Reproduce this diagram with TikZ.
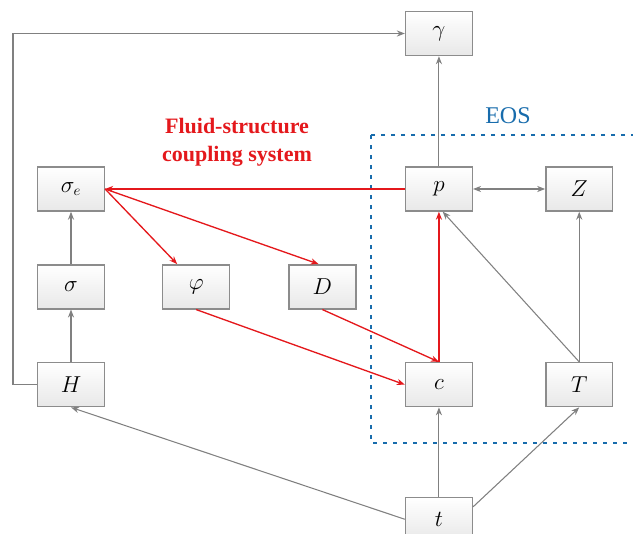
\documentclass[tikz,border=0pt]{standalone}
\usepackage{fontspec}
\setmainfont{Liberation Serif}
\usetikzlibrary{arrows.meta,positioning}
\definecolor{wiregray}{RGB}{128,128,128}
\definecolor{fsired}{RGB}{228,24,28}
\definecolor{eosblue}{RGB}{24,108,172}

\begin{document}
\begin{tikzpicture}[x=0.75pt, y=-0.75pt, >={Stealth[length=6pt,width=4.6pt]}, box/.style={draw=black!45,line width=1.1pt,top color=white,bottom color=black!9,minimum width=17.6mm,minimum height=11.6mm,font=\fontsize{16}{19}\selectfont}, wire/.style={->,wiregray,line width=0.8pt}, fsi/.style={->,fsired,line width=1pt}]
\useasboundingbox (0,0) rectangle (633,534);
\draw[eosblue, line width=1.8pt, dash pattern=on 3pt off 4.5pt] (371,135) rectangle (650,443);
\node[text=eosblue, font=\fontsize{18}{21}\selectfont] (eos) at (508,116) {EOS};
\node[text=fsired, align=center, font=\fontsize{16.5}{21}\selectfont\bfseries] (fsilabel) at (237,142) {Fluid-structure\\coupling system};
\node[box] (sigmae) at (71,189) {$\sigma_e$};
\node[box, below=13.8mm of sigmae] (sigma) {$\sigma$};
\node[box, below=13.8mm of sigma] (H) {$H$};
\node[box, right=15mm of sigma] (phi) {$\varphi$};
\node[box, right=15.3mm of phi] (D) {$D$};
\node[box, right=79mm of sigmae] (p) {$p$};
\node[box, right=19mm of p] (Z) {$Z$};
\node[box, above=29mm of p] (gamma) {$\gamma$};
\node[box] (c) at (p |- H) {$c$};
\node[box] (T) at (Z |- H) {$T$};
\node[box, below=23.5mm of c] (t) {$t$};
\draw[fsi] (p) -- (sigmae);
\draw[fsi] (sigmae.east) -- ([xshift=-5mm]phi.north);
\draw[fsi] (sigmae.east) -- ([xshift=-1mm]D.north);
\draw[fsi] (phi.south) -- (c.west);
\draw[fsi] (D.south) -- (c.north);
\draw[fsi] (c.north) -- (p.south);
\draw[wire] (p) -- (gamma);
\draw[wire,<->] (p) -- (Z);
\draw[wire] (sigma) -- (sigmae);
\draw[wire] (H) -- (sigma);
\draw[wire] (H.west) -- ++(-6.3mm,0) |- (gamma.west);
\draw[wire] (T) -- (Z);
\draw[wire] (T.north) -- ([xshift=1mm]p.south);
\draw[wire] (t) -- (c);
\draw[wire] (t.west) -- (H.south);
\draw[wire] (t.20) -- (T.south);
\end{tikzpicture}
\end{document}
